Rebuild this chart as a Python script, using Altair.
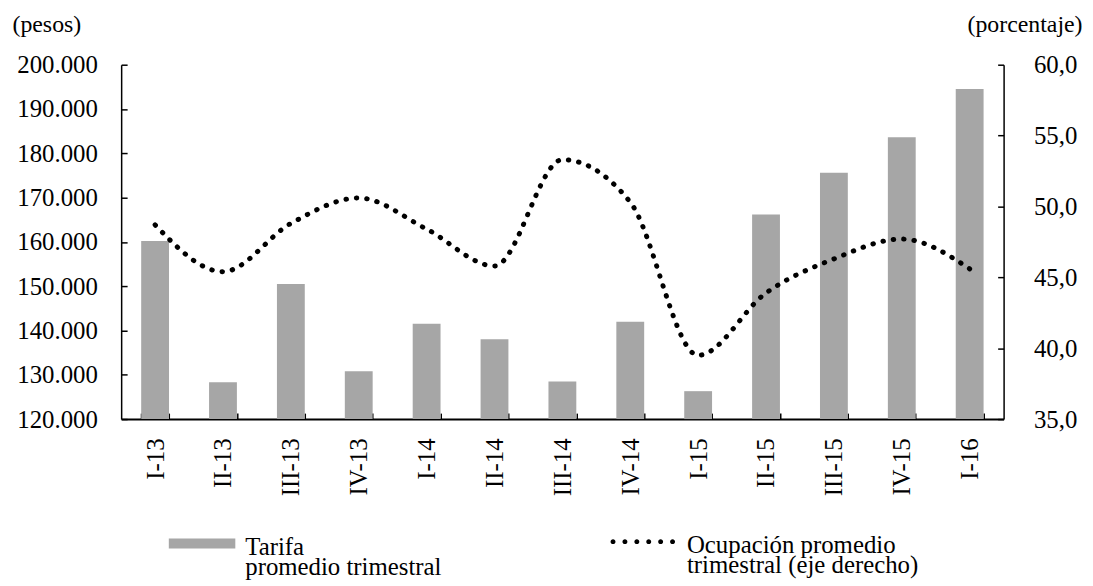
import altair as alt
import pandas as pd

periods = ["I-13", "II-13", "III-13", "IV-13", "I-14", "II-14", "III-14",
           "IV-14", "I-15", "II-15", "III-15", "IV-15", "I-16"]
tarifa = [160200, 128300, 150500, 130800, 141500, 138000, 128500,
          142000, 126300, 166200, 175600, 183600, 194500]
ocupacion = [48.7, 45.4, 48.8, 50.6, 48.4, 45.8, 53.3,
             50.3, 39.5, 43.9, 46.3, 47.7, 45.6]
left_ticks = [120000, 130000, 140000, 150000, 160000, 170000, 180000, 190000, 200000]
right_ticks = [35, 40, 45, 50, 55, 60]

bar_label = "Tarifa|promedio trimestral"
line_label = "Ocupación promedio|trimestral (eje derecho)"

df = pd.DataFrame({"periodo": periods, "tarifa": tarifa, "ocupacion": ocupacion})
df["serie_barra"] = bar_label
df["serie_linea"] = line_label

FONT = "Liberation Serif"
INWARD = alt.ExprRef(expr="-6")

# legend glyph for the dotted series: a row of six small dots
_r = 0.079
_dy = -0.35
_dots = "".join(
    f"M{cx - _r:.3f},{_dy}a{_r},{_r} 0 1,0 {2 * _r:.3f},0a{_r},{_r} 0 1,0 {-2 * _r:.3f},0Z"
    for cx in [-0.952, -0.571, -0.190, 0.190, 0.571, 0.952]
)

x = alt.X(
    "periodo:N", sort=periods, title=None,
    scale=alt.Scale(paddingInner=0.59, paddingOuter=0.295),
    axis=alt.Axis(labelAngle=270, tickBand="extent", tickSize=INWARD,
                  labelPadding=25, domainWidth=2, tickWidth=1.5),
)

bars = alt.Chart(df).mark_bar().encode(
    x=x,
    y=alt.Y(
        "tarifa:Q",
        scale=alt.Scale(domain=[120000, 200000], zero=False, nice=False),
        axis=alt.Axis(
            values=left_ticks,
            labelExpr="replace(format(datum.value, ',.0f'), ',', '.')",
            title="(pesos)", titleAngle=0, titleAlign="left", titleBaseline="middle",
            titleX=-110, titleY=-40, tickSize=INWARD, labelPadding=30,
        ),
    ),
    y2=alt.datum(120000),
    fill=alt.Fill(
        "serie_barra:N",
        scale=alt.Scale(range=["#a6a6a6"]),
        legend=alt.Legend(
            orient="none", legendX=48, legendY=460, title=None, padding=0,
            symbolType="M-1,-0.48H1V-0.18H-1Z", symbolSize=4489, symbolStrokeWidth=0,
            labelFont=FONT, labelFontSize=25, labelColor="black", labelOffset=10,
            labelLimit=0, labelBaseline="alphabetic",
            labelExpr="split(datum.label, '|')",
        ),
    ),
)

line = alt.Chart(df).mark_line(
    interpolate="monotone", strokeDash=[0.5, 10], strokeCap="round", strokeWidth=5
).encode(
    x=x,
    y=alt.Y(
        "ocupacion:Q",
        scale=alt.Scale(domain=[35, 60], zero=False, nice=False),
        axis=alt.Axis(
            orient="right", values=right_ticks,
            labelExpr="replace(format(datum.value, '.1f'), '.', ',')",
            title="(porcentaje)", titleAngle=0, titleAlign="right", titleBaseline="middle",
            titleX=79, titleY=-40, tickSize=INWARD, labelPadding=36,
        ),
    ),
    stroke=alt.Stroke(
        "serie_linea:N",
        scale=alt.Scale(range=["black"]),
        legend=alt.Legend(
            orient="none", legendX=494, legendY=460, title=None, padding=0,
            symbolType=_dots, symbolSize=3969, symbolStrokeWidth=0,
            symbolFillColor="black",
            labelFont=FONT, labelFontSize=25, labelColor="black", labelOffset=13,
            labelLimit=0, labelBaseline="alphabetic",
            labelExpr="split(datum.label, '|')",
        ),
    ),
)

chart = alt.layer(bars, line).resolve_scale(
    y="independent", fill="independent", stroke="independent"
).properties(
    width=889, height=357,
    autosize=alt.AutoSizeParams(type="none"),
    padding={"left": 114, "top": 55, "right": 82, "bottom": 162},
).configure(
    font=FONT,
    style={"guide-label": {"lineHeight": 21, "font": FONT},
           "guide-title": {"font": FONT}},
).configure_axis(
    labelFont=FONT, labelFontSize=25, labelColor="black",
    titleFont=FONT, titleFontSize=24, titleColor="black", titleFontWeight="normal",
    domainColor="black", tickColor="black", grid=False, domainWidth=1.5, tickWidth=1.5,
).configure_legend(
    labelFont=FONT,
).configure_view(stroke=None)

chart.save("out.html", embed_options={"renderer": "svg", "actions": False})
